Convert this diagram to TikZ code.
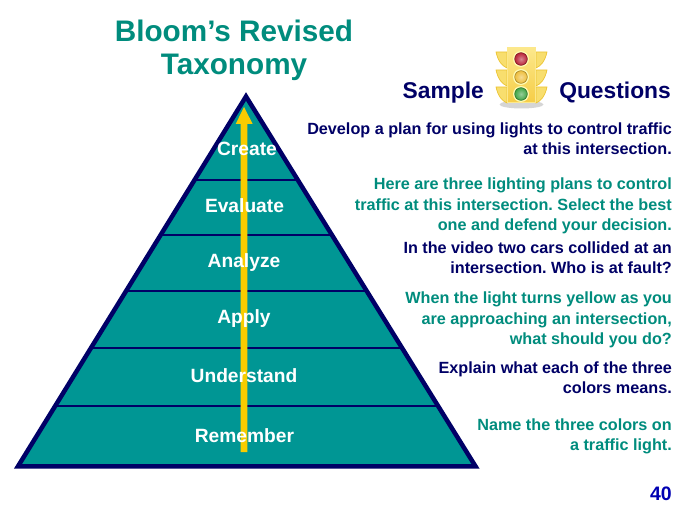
\documentclass[tikz,border=0pt]{standalone}
\usepackage{fontspec}
\setmainfont{Liberation Sans}
\definecolor{tealfill}{RGB}{0,150,148}
\definecolor{navyline}{RGB}{0,0,102}
\definecolor{titleteal}{RGB}{0,140,125}
\definecolor{arrowgold}{RGB}{248,204,0}
\definecolor{lamptop}{RGB}{252,232,140}
\definecolor{lampbottom}{RGB}{246,205,70}
\definecolor{lampwing}{RGB}{248,222,110}
\definecolor{wingedge}{RGB}{236,196,50}
\definecolor{lampred}{RGB}{185,35,55}
\definecolor{lampamber}{RGB}{238,190,60}
\definecolor{lampgreen}{RGB}{65,165,70}
\tikzset{
  levellabel/.style={text=white,font=\fontsize{19.2}{20}\selectfont\bfseries,inner sep=0pt,anchor=base},
  titlelabel/.style={text=titleteal,font=\fontsize{29.7}{32.5}\selectfont\bfseries,inner sep=0pt,align=center},
  headlabel/.style={text=navyline,font=\fontsize{22.8}{26}\selectfont\bfseries,inner sep=0pt},
  navyq/.style={text=navyline,font=\frenchspacing\fontsize{16.2}{20.2}\selectfont\bfseries,inner sep=0pt,align=right,anchor=east},
  tealq/.style={text=titleteal,font=\frenchspacing\fontsize{16.2}{20.2}\selectfont\bfseries,inner sep=0pt,align=right,anchor=east},
  levelline/.style={draw=navyline,line width=1.6pt},
  wing/.style={fill=lampwing,draw=wingedge,line width=0.7pt},
}
\begin{document}
\begin{tikzpicture}[x=1pt,y=-1pt]
\useasboundingbox (0,0) rectangle (688,516);
% pyramid
\coordinate (apex) at (246,96.5);
\coordinate (bl) at (18,466.3);
\coordinate (br) at (475.5,466.3);
\filldraw[fill=tealfill,draw=navyline,line width=4.5pt,miter limit=10] (apex) -- (br) -- (bl) -- cycle;
\draw[levelline] (194.4,180) -- (297.6,180);
\draw[levelline] (160.6,235) -- (331.4,235);
\draw[levelline] (126.3,291) -- (365.7,291);
\draw[levelline] (91.3,348) -- (400.7,348);
\draw[levelline] (55.7,406) -- (436.3,406);
% arrow
\coordinate (arrowtip) at (244,107);
\fill[arrowgold] (240.7,452) -- (240.7,124) -- (235.7,124) -- (arrowtip) -- (252.7,124) -- (247.3,124) -- (247.3,452) -- cycle;
% labels
\node[levellabel] (create) at (247,156) {Create};
\node[levellabel] (evaluate) at (244.5,212.5) {Evaluate};
\node[levellabel] (analyze) at (244,267.5) {Analyze};
\node[levellabel] (apply) at (244,323) {Apply};
\node[levellabel] (understand) at (244,382) {Understand};
\node[levellabel] (remember) at (244.5,442) {Remember};
% title
\node[titlelabel] (title) at (234,50.5) {Bloom’s Revised\\Taxonomy};
\node[headlabel,anchor=base east] (sample) at (484,99) {Sample};
\node[headlabel,anchor=base east] (questions) at (671,99) {Questions};
% traffic light
\fill[black!30,opacity=.55] (521.5,104.5) ellipse (22 and 4);
\foreach \yy in {52,70,87}{
  \draw[wing] (507,\yy) -- (496,\yy) .. controls (498,\yy+9) and (502,\yy+14) .. (507,\yy+16) -- cycle;
  \draw[wing] (536,\yy) -- (547,\yy) .. controls (545,\yy+9) and (541,\yy+14) .. (536,\yy+16) -- cycle;
}
\shade[top color=lamptop,bottom color=lampbottom,draw=lamptop,line width=1pt] (507.5,47.5) rectangle (535.5,103);
\foreach \yy/\cc in {59/lampred,77/lampamber,94/lampgreen}{
  \fill[white!70!yellow] (521,\yy) circle (8);
  \shade[inner color=\cc!55!white,outer color=\cc,draw=\cc!70!black,line width=0.6pt] (521,\yy) circle (6.3);
}
% questions
\node[navyq] (q1) at (672,138.5) {Develop a plan for using lights to control traffic\\at this intersection.};
\node[tealq] (q2) at (672,206) {Here are three lighting plans to control\\traffic at this intersection. Select the best\\one and defend your decision.};
\node[navyq] (q3) at (672,257.5) {In the video two cars collided at an\\intersection. Who is at fault?};
\node[tealq] (q4) at (672,320) {When the light turns yellow as you\\are approaching an intersection,\\what should you do?};
\node[navyq] (q5) at (672,377.5) {Explain what each of the three\\colors means.};
\node[tealq] (q6) at (672,436.5) {Name the three colors on\\a traffic light.};
\node[text=blue!70!black,font=\fontsize{19.5}{20}\selectfont\bfseries,inner sep=0pt,anchor=base east] (pagenum) at (672,500) {40};
\end{tikzpicture}
\end{document}
